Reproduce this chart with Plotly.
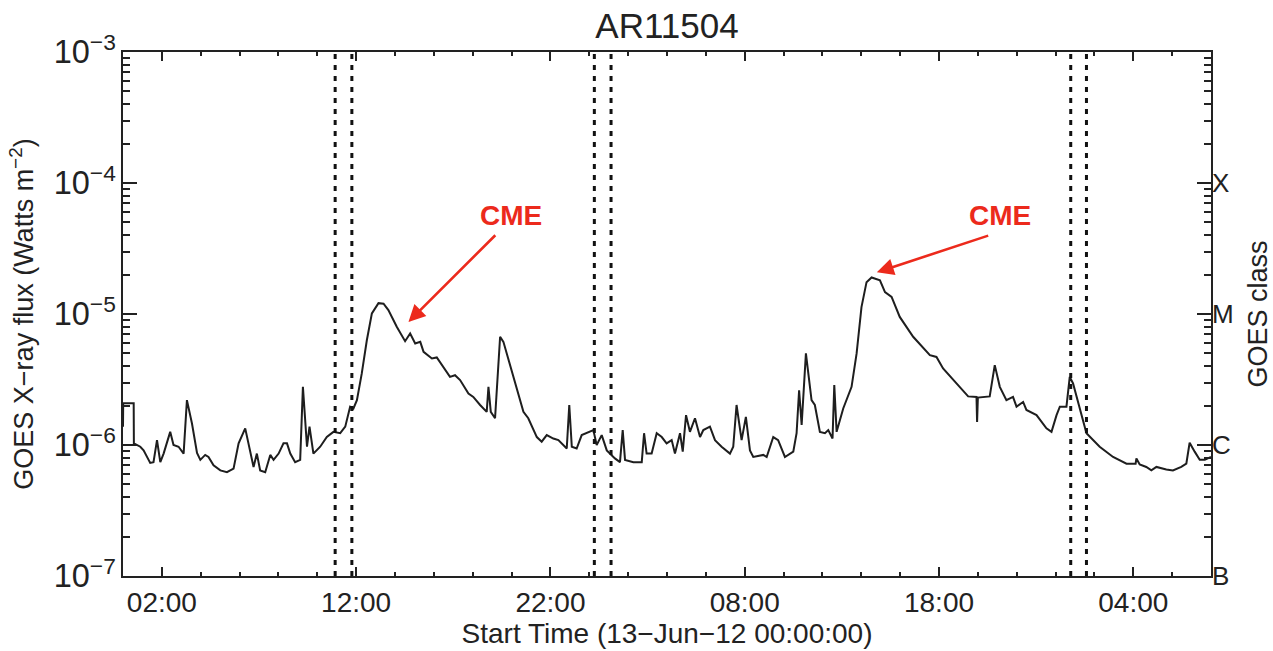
import numpy as np
import pandas as pd
import plotly.graph_objects as go

START = "2012-06-13 00:00:00"

# hours since start
hours = [
    0.00, 0.01, 0.55, 0.56, 0.89, 1.06, 1.40, 1.57, 1.75, 1.92,
    2.09, 2.43, 2.60, 2.86, 3.12, 3.29, 3.55, 3.81, 3.98, 4.23,
    4.40, 4.66, 5.01, 5.35, 5.69, 5.95, 6.29, 6.46, 6.72, 6.89,
    7.06, 7.32, 7.58, 7.75, 8.01, 8.26, 8.44, 8.61, 8.86, 9.12,
    9.26, 9.47, 9.60, 9.80, 10.15, 10.49, 10.83, 11.18, 11.44, 11.69,
    11.86, 12.04, 12.29, 12.55, 12.81, 13.15, 13.41, 13.66, 14.09, 14.52,
    14.78, 15.04, 15.30, 15.47, 15.90, 16.15, 16.41, 16.83, 17.09, 17.35,
    17.78, 18.03, 18.38, 18.72, 18.81, 18.93, 19.15, 19.41, 19.58, 19.75,
    20.27, 20.61, 20.86, 21.30, 21.55, 21.81, 22.15, 22.41, 22.84, 22.97,
    23.10, 23.35, 23.61, 23.95, 24.21, 24.38, 24.64, 24.90, 25.32, 25.58,
    25.72, 25.84, 26.27, 26.70, 26.82, 26.95, 27.21, 27.47, 27.73, 27.98,
    28.24, 28.41, 28.67, 28.81, 28.98, 29.18, 29.44, 29.70, 29.87, 30.21,
    30.47, 30.81, 31.24, 31.41, 31.58, 31.84, 32.06, 32.27, 32.44, 32.96,
    33.13, 33.47, 33.72, 34.07, 34.33, 34.50, 34.67, 34.80, 34.93, 35.15,
    35.44, 35.61, 35.87, 36.13, 36.30, 36.52, 36.61, 36.73, 37.07, 37.50,
    37.76, 38.01, 38.27, 38.53, 38.96, 39.22, 39.56, 39.98, 40.67, 41.53,
    41.87, 42.21, 42.90, 43.50, 43.93, 43.96, 44.00, 44.61, 44.87, 45.13,
    45.47, 45.81, 45.99, 46.33, 46.50, 47.02, 47.53, 47.79, 48.05, 48.22,
    48.56, 48.73, 48.90, 49.25, 49.59, 50.27, 50.96, 51.65, 52.12, 52.16,
    52.33, 52.67, 52.93, 53.19, 53.70, 54.04, 54.47, 54.73, 54.90, 55.16,
    55.42, 55.68, 56.00,
]

# GOES flux in units of 1e-6 W m^-2
flux_1e6 = [
    1.38, 2.08, 2.08, 1.03, 0.97, 0.91, 0.73, 0.74, 1.09, 0.74,
    0.86, 1.26, 1.00, 0.97, 0.86, 2.20, 1.46, 0.87, 0.77, 0.84,
    0.81, 0.70, 0.64, 0.62, 0.66, 1.03, 1.34, 1.03, 0.68, 0.86,
    0.64, 0.62, 0.84, 0.77, 0.86, 1.03, 1.03, 0.86, 0.74, 0.77,
    2.78, 0.97, 1.38, 0.86, 0.97, 1.15, 1.26, 1.23, 1.38, 1.96,
    1.90, 2.20, 3.52, 6.30, 10.1, 12.1, 12.0, 10.7, 8.0, 6.2,
    7.1, 5.96, 6.13, 5.14, 4.58, 4.66, 4.06, 3.31, 3.41, 3.13,
    2.47, 2.33, 2.02, 1.79, 2.78, 1.79, 1.60, 6.70, 6.13, 5.00,
    2.78, 1.79, 1.60, 1.15, 1.06, 1.19, 1.12, 1.09, 0.94, 2.02,
    0.97, 0.94, 1.19, 1.26, 1.30, 1.00, 1.19, 0.91, 0.79, 0.74,
    1.30, 0.77, 0.74, 0.74, 1.23, 0.86, 0.86, 1.23, 1.15, 1.03,
    1.09, 0.86, 1.23, 0.89, 1.69, 1.26, 1.60, 1.15, 1.30, 1.38,
    1.09, 0.97, 0.86, 0.97, 2.02, 1.09, 1.64, 0.91, 0.81, 0.84,
    0.81, 1.15, 1.09, 0.81, 0.86, 0.89, 1.23, 2.62, 1.42, 5.00,
    2.20, 2.02, 1.26, 1.23, 1.30, 1.12, 2.87, 1.26, 1.90, 2.78,
    5.00, 11.3, 17.5, 19.0, 18.1, 14.7, 13.5, 9.5, 6.7, 4.85,
    4.70, 3.84, 2.95, 2.35, 2.33, 1.50, 2.30, 2.35, 4.07, 2.78,
    2.20, 2.33, 1.96, 2.13, 1.85, 1.69, 1.34, 1.26, 1.69, 1.96,
    1.96, 3.31, 2.95, 1.85, 1.23, 0.97, 0.81, 0.72, 0.72, 0.79,
    0.71, 0.68, 0.64, 0.68, 0.65, 0.64, 0.68, 0.72, 1.04, 0.89,
    0.77, 0.77, 0.81,
]

# dotted vertical marker times (hours since start)
marker_hours = [10.92, 11.78, 24.26, 25.12, 48.78, 49.59]

# GOES class labels on right axis
class_values = [1e-7, 1e-6, 1e-5, 1e-4]
class_labels = ["B", "C", "M", "X"]

# CME annotations
cme_text_hours = [19.96, 45.13]
cme_text_flux = [5.6e-5, 5.6e-5]
cme_tail_hours = [19.24, 44.61]
cme_tail_flux = [4.1e-5, 4.0e-5]
cme_tip_hours = [14.69, 38.80]
cme_tip_flux = [8.7e-6, 2.08e-5]

t0 = pd.Timestamp(START)


def to_time(h):
    return t0 + pd.to_timedelta(h, unit="h")


times = [to_time(h) for h in hours]
flux = np.array(flux_1e6) * 1e-6

# minor tick positions (structure of the axes)
minor_y = [m * 10.0 ** e for e in range(-7, -3) for m in range(2, 10)]
minor_x = [to_time(h) for h in range(0, 57, 2)]

FONT = "Liberation Sans, Arial, Helvetica, sans-serif"
INK = "#222222"
RED = "#ec2a1c"

fig = go.Figure()
fig.add_trace(go.Scatter(x=times, y=flux, mode="lines",
                         line=dict(color="#1e1e1e", width=2.0),
                         showlegend=False, hoverinfo="skip"))
fig.add_trace(go.Scatter(x=[], y=[], xaxis="x", yaxis="y2", showlegend=False))
fig.add_trace(go.Scatter(x=[], y=[], xaxis="x", yaxis="y3", showlegend=False))
fig.add_trace(go.Scatter(x=[], y=[], xaxis="x2", yaxis="y", showlegend=False))

shapes = []
for h in marker_hours:
    tt = to_time(h)
    shapes.append(dict(type="line", xref="x", yref="paper", x0=tt, x1=tt, y0=0, y1=1,
                       line=dict(color="#111111", width=3, dash="5px,6px")))

annotations = []
for i in range(2):
    annotations.append(dict(
        x=to_time(cme_text_hours[i]), y=np.log10(cme_text_flux[i]), xref="x", yref="y",
        text="<b>CME</b>", showarrow=False, font=dict(family=FONT, size=28, color=RED)))
    annotations.append(dict(
        x=to_time(cme_tip_hours[i]), y=np.log10(cme_tip_flux[i]), xref="x", yref="y",
        ax=to_time(cme_tail_hours[i]), ay=np.log10(cme_tail_flux[i]), axref="x", ayref="y",
        text="", showarrow=True, arrowhead=2, arrowsize=1.3, arrowwidth=2.6, arrowcolor=RED))

yrange = [-7, -3]
xrange_ = [to_time(0), to_time(56)]

fig.update_layout(
    width=1273, height=651,
    margin=dict(l=123, r=62, t=52, b=75, autoexpand=False),
    paper_bgcolor="white", plot_bgcolor="white",
    font=dict(family=FONT, color=INK, size=26),
    title=dict(text="AR11504", x=0.5, xref="paper", y=1 - 26 / 651, yref="container",
               yanchor="middle", font=dict(family=FONT, size=35, color=INK)),
    shapes=shapes, annotations=annotations,
    xaxis=dict(
        type="date", range=xrange_, automargin=False,
        tick0=to_time(2), dtick=10 * 3600 * 1000, tickformat="%H:%M",
        ticks="inside", ticklen=9, tickwidth=1.5, tickcolor=INK,
        showline=True, linecolor=INK, linewidth=2, mirror="ticks",
        showgrid=False, zeroline=False,
        tickfont=dict(size=28),
        title=dict(text="Start Time (13\u2212Jun\u221212 00:00:00)", font=dict(size=28), standoff=2),
    ),
    xaxis2=dict(
        type="date", range=xrange_, overlaying="x", anchor="y", side="bottom", automargin=False,
        tickmode="array", tickvals=minor_x, showticklabels=False,
        ticks="inside", ticklen=4, tickwidth=1.5, tickcolor=INK, mirror="ticks",
        showline=False, showgrid=False, zeroline=False,
    ),
    yaxis=dict(
        type="log", range=yrange, dtick=1, exponentformat="power", showexponent="all",
        automargin=False,
        ticks="inside", ticklen=14, tickwidth=1.5, tickcolor=INK,
        showline=True, linecolor=INK, linewidth=2, mirror="ticks",
        showgrid=False, zeroline=False, tickfont=dict(size=26),
        title=dict(text="GOES X\u2212ray flux (Watts m<sup>\u22122</sup>)", font=dict(size=27), standoff=12),
    ),
    yaxis2=dict(
        type="log", range=yrange, overlaying="y", anchor="x", side="right", automargin=False,
        tickmode="array", tickvals=class_values, ticktext=class_labels,
        ticks="", showline=False, showgrid=False, zeroline=False,
        tickfont=dict(size=26),
        title=dict(text="GOES class", font=dict(size=27), standoff=18),
    ),
    yaxis3=dict(
        type="log", range=yrange, overlaying="y", anchor="x", side="left", automargin=False,
        tickmode="array", tickvals=minor_y, showticklabels=False,
        ticks="inside", ticklen=7, tickwidth=1.5, tickcolor=INK, mirror="ticks",
        showline=False, showgrid=False, zeroline=False,
    ),
)

fig.write_html("out.html", config={"displayModeBar": False},
               post_script="document.body.style.margin='0';document.body.style.overflow='hidden';")
